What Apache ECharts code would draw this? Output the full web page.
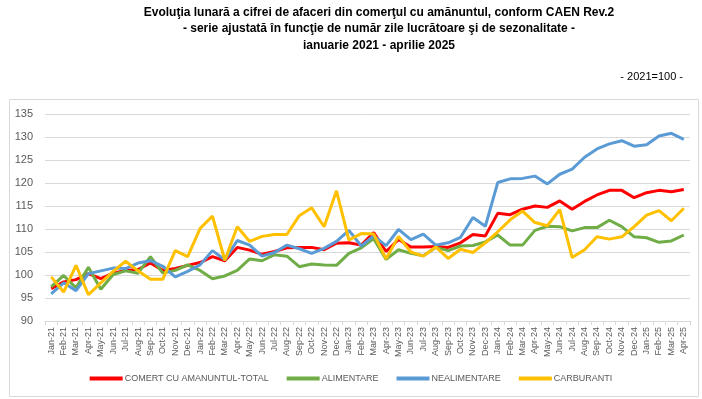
<!DOCTYPE html>
<html>
<head>
<meta charset="utf-8">
<script src="https://cdn.jsdelivr.net/npm/echarts@6/dist/echarts.min.js"></script>
<style>
  html, body { margin: 0; padding: 0; background: #fff; }
  #main { width: 702px; height: 399px; }
</style>
</head>
<body>
<div id="main"></div>
<script>
// luni ianuarie 2021 - aprilie 2025
var months = ['Jan-21','Feb-21','Mar-21','Apr-21','May-21','Jun-21','Jul-21','Aug-21','Sep-21','Oct-21','Nov-21','Dec-21',
    'Jan-22','Feb-22','Mar-22','Apr-22','May-22','Jun-22','Jul-22','Aug-22','Sep-22','Oct-22','Nov-22','Dec-22',
    'Jan-23','Feb-23','Mar-23','Apr-23','May-23','Jun-23','Jul-23','Aug-23','Sep-23','Oct-23','Nov-23','Dec-23',
    'Jan-24','Feb-24','Mar-24','Apr-24','May-24','Jun-24','Jul-24','Aug-24','Sep-24','Oct-24','Nov-24','Dec-24',
    'Jan-25','Feb-25','Mar-25','Apr-25'];

var total = [97.0, 98.5, 99.0, 100.3, 99.2, 100.4, 101.0, 101.2, 102.6, 101.0, 101.4, 102.1,
    102.7, 104.0, 103.1, 106.0, 105.4, 104.5, 105.1, 105.9, 106.0, 106.0, 105.5, 106.9,
    107.0, 106.5, 109.2, 105.1, 107.7, 106.1, 106.1, 106.2, 106.0, 107.0, 108.8, 108.5,
    113.4, 113.1, 114.3, 115.0, 114.7, 116.1, 114.3, 116.0, 117.4, 118.4, 118.4, 116.8,
    117.9, 118.4, 118.1, 118.6];

var alimentare = [97.4, 99.9, 97.2, 101.7, 96.9, 100.1, 100.9, 100.4, 104.0, 100.4, 101.0, 102.2,
    101.0, 99.2, 99.8, 101.0, 103.5, 103.1, 104.4, 104.1, 101.8, 102.4, 102.2, 102.1,
    104.7, 105.9, 107.9, 103.4, 105.5, 104.7, 104.2, 106.0, 105.3, 106.3, 106.4, 107.2,
    108.7, 106.5, 106.5, 109.7, 110.6, 110.5, 109.6, 110.3, 110.3, 111.9, 110.5, 108.3,
    108.1, 107.1, 107.4, 108.7];

var nealimentare = [95.9, 98.3, 96.6, 100.3, 100.9, 101.5, 101.4, 102.6, 103.1, 101.9, 99.6, 100.8,
    102.2, 105.3, 103.3, 107.5, 106.5, 104.1, 104.9, 106.5, 105.7, 104.7, 105.8, 107.3,
    109.7, 106.3, 108.5, 106.4, 109.9, 107.7, 108.9, 106.5, 107.0, 108.2, 112.5, 110.6,
    120.1, 120.9, 121.0, 121.5, 119.8, 121.9, 123.0, 125.6, 127.4, 128.5, 129.2, 128.0,
    128.3, 130.2, 130.8, 129.5];

var carburanti = [99.6, 96.3, 102.1, 95.7, 98.3, 100.8, 103.0, 100.9, 99.1, 99.1, 105.3, 104.0,
    110.1, 112.8, 103.2, 110.5, 107.3, 108.4, 108.8, 108.8, 112.9, 114.6, 110.5, 118.3,
    107.6, 109.0, 108.9, 103.5, 108.4, 105.0, 104.1, 106.1, 103.6, 105.6, 104.9, 107.0,
    109.4, 112.0, 113.9, 111.4, 110.7, 114.2, 103.8, 105.5, 108.3, 107.8, 108.3, 110.5,
    113.0, 114.0, 111.8, 114.5];

var FONT = "'Liberation Sans Narrow', 'Arial Narrow', 'Liberation Sans', sans-serif";

var chart = echarts.init(document.getElementById('main'));

function serie(name, data, color) {
    return {
        name: name,
        type: 'line',
        data: data,
        symbol: 'none',
        lineStyle: { color: color, width: 3 },
        itemStyle: { color: color }
    };
}

chart.setOption({
    animation: false,
    textStyle: { fontFamily: FONT },
    title: [{
        text: 'Evoluţia lunară a cifrei de afaceri din comerţul cu amănuntul, conform CAEN Rev.2\n- serie ajustată în funcţie de număr zile lucrătoare şi de sezonalitate -\nianuarie 2021 - aprilie 2025',
        left: 374,
        top: -1,
        textAlign: 'center',
        textStyle: {
            fontFamily: FONT,
            fontSize: 12,
            fontWeight: 'bold',
            color: '#000',
            lineHeight: 16.5
        }
    }, {
        text: '- 2021=100 -',
        right: 14,
        top: 66,
        textStyle: {
            fontFamily: FONT,
            fontSize: 11,
            fontWeight: 'normal',
            color: '#000'
        }
    }],
    graphic: [{
        type: 'rect',
        shape: { x: 9.5, y: 99.5, width: 689, height: 297 },
        style: { fill: 'none', stroke: '#d9d9d9', lineWidth: 1 },
        silent: true
    }],
    legend: {
        bottom: 11,
        left: 'center',
        itemGap: 18,
        itemWidth: 33,
        itemHeight: 4,
        icon: 'rect',
        textStyle: { fontFamily: FONT, fontSize: 9, color: '#595959', padding: [0, 0, 0, -3] },
        data: ['COMERT CU AMANUNTUL-TOTAL', 'ALIMENTARE', 'NEALIMENTARE', 'CARBURANTI']
    },
    grid: {
        left: 45,
        right: 12,
        top: 114,
        bottom: 78,
        containLabel: false
    },
    xAxis: {
        type: 'category',
        data: months,
        boundaryGap: true,
        axisLine: { lineStyle: { color: '#d9d9d9' } },
        axisTick: { show: true, length: 4, lineStyle: { color: '#d9d9d9' } },
        axisLabel: {
            rotate: 90,
            interval: 0,
            fontSize: 9,
            color: '#595959',
            fontFamily: FONT,
            margin: 6
        }
    },
    yAxis: {
        type: 'value',
        min: 90,
        max: 135,
        interval: 5,
        axisLine: { show: false },
        axisTick: { show: false },
        splitLine: { lineStyle: { color: '#d9d9d9', width: 1 } },
        axisLabel: {
            fontSize: 11,
            color: '#595959',
            fontFamily: FONT,
            margin: 12
        }
    },
    series: [
        serie('COMERT CU AMANUNTUL-TOTAL', total, '#ff0000'),
        serie('ALIMENTARE', alimentare, '#70ad47'),
        serie('NEALIMENTARE', nealimentare, '#5b9bd5'),
        serie('CARBURANTI', carburanti, '#ffc000')
    ]
});
</script>
</body>
</html>
